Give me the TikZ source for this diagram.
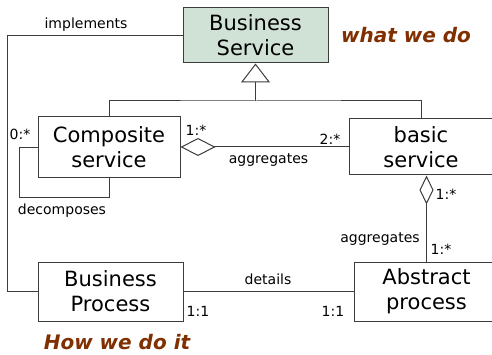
\documentclass[tikz,border=0pt]{standalone}
\usepackage{fontspec}
\setmainfont{DejaVu Sans}
\usetikzlibrary{arrows.meta}
\definecolor{svcfill}{RGB}{208,225,214}
\definecolor{linegray}{RGB}{60,60,60}
\definecolor{handbrown}{RGB}{128,48,0}

\begin{document}
\begin{tikzpicture}[x=1pt,y=-1pt,
  box/.style={draw=linegray,line width=1pt,align=center,inner sep=0pt,font=\fontsize{21}{25}\selectfont},
  lbl/.style={inner sep=0pt,font=\fontsize{14}{16}\selectfont},
  hand/.style={inner sep=0pt,text=handbrown,font=\fontsize{20}{22}\selectfont\bfseries\itshape},
  conn/.style={draw=linegray,line width=1pt}]

\useasboundingbox (0,0) rectangle (492,355);

% classes
\node[box,fill=svcfill,minimum width=145pt,minimum height=55pt] (bs) at (255.5,35.5) {Business\\Service};
\node[box,minimum width=142pt,minimum height=61pt] (comp) at (109,147.5) {Composite\\service};
\node[box,minimum width=144pt,minimum height=56pt] (basic) at (421,147) {basic\\service};
\node[box,minimum width=145pt,minimum height=59pt] (bp) at (110.5,291.5) {Business\\Process};
\node[box,minimum width=145pt,minimum height=59pt] (ap) at (426.5,291.5) {Abstract\\process};

% generalization
\coordinate (fork) at (255.5,101);
\draw[conn] (comp.north) |- (fork) -| (basic.north);
\draw[conn,-{Triangle[open,length=19pt,width=29pt]}] (fork) -- (bs.south);

% implements
\draw[conn] (bs.west) -- ++(-175,0) |- (bp.west);
\node[lbl] (impl) at (86,25) {implements};

% aggregates (horizontal)
\draw[conn,{Diamond[open,length=35pt,width=18pt]}-] (comp.east |- basic.west) -- (basic.west);
\node[lbl] (m1) at (196,130) {1:*};
\node[lbl] (m2) at (330,139) {2:*};
\node[lbl] (agg1) at (268.5,160) {aggregates};

% decomposes
\coordinate (loop) at (19,198);
\draw[conn] (comp.west) -| (loop) -| (comp.south);
\node[lbl] (m0) at (20,134) {0:*};
\node[lbl] (dec) at (62,211) {decomposes};

% aggregates (vertical)
\draw[conn,{Diamond[open,length=29pt,width=14pt]}-] (basic.south -| ap.north) -- (ap.north);
\node[lbl] (m3) at (446,194) {1:*};
\node[lbl] (agg2) at (380,239) {aggregates};
\node[lbl] (m4) at (441,249) {1:*};

% details
\draw[conn] (bp.east) -- (ap.west);
\node[lbl] (det) at (268,279) {details};
\node[lbl] (m5) at (198,311) {1:1};
\node[lbl] (m6) at (333,311) {1:1};

% notes
\node[hand] (what) at (406,35) {what we do};
\node[hand] (how) at (117,342) {How we do it};

\end{tikzpicture}
\end{document}
